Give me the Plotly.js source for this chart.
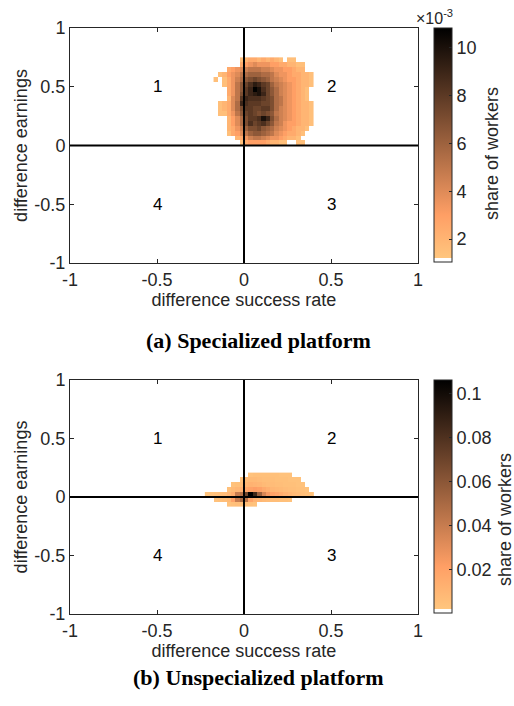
<!DOCTYPE html>
<html>
<head>
<meta charset="utf-8">
<script src="https://cdn.plot.ly/plotly-3.0.1.min.js"></script>
<style>html,body{margin:0;padding:0;background:#fff;}#chart{width:514px;height:706px;}</style>
</head>
<body>
<div id="chart"></div>
<script>
// ---- Data: (a) Specialized platform, share of workers in units of 1e-3 ----
// bin centers of the difference success rate (x) and difference earnings (y)
const topX = [-0.1625,-0.1375,-0.1125,-0.0875,-0.0625,-0.0375,-0.0125,0.0125,0.0375,0.0625,0.0875,0.1125,
              0.1375,0.1625,0.1875,0.2125,0.2375,0.2625,0.2875,0.3125,0.3375,0.3625,0.3875];
const topY = [0.0208,0.0625,0.1042,0.1458,0.1875,0.2292,0.2708,0.3125,0.3542,0.3958,0.4375,0.4792,
              0.5208,0.5625,0.6042,0.6458,0.6875,0.7292];
// rows from bottom (y≈0) to top (y≈0.73); columns from x≈-0.16 to x≈0.39
const topZ = [
  [0,0,0,0,0,0,1.5,2.5,3,3,3,3,2.5,2,2,1.5,1.5,0,0,1.5,1.5,0,0],
  [0,0,0,0,0,2,2.5,3.5,4.5,5,5,4.5,4,3.5,3.5,3,2.5,2,2,1.5,0,0,0],
  [0,0,0,1.5,2.5,3,4,5,6,6.5,6.5,6,5.5,5,4,3.5,3,2.5,2.5,2,1.5,0,0],
  [0,0,0,2,2.5,3.5,4.5,6,7,7,7.5,6.5,6,5.5,4.5,4,3.5,3,2.5,2,2,1.5,0],
  [0,0,0,2,3,4,5.5,7,8.5,7.5,8,8.5,7.5,6.5,5,4.5,3.5,3,3,2.5,2,2,1.5],
  [0,0,0,2,3,4,5.5,7,8,8,8.5,10,9,7,5.5,4.5,4,3.5,3,2.5,2,2,1.5],
  [0,1.5,1.5,2.5,3.5,5,6.5,7.5,8,7.5,7,7.5,7,6.5,5,4.5,4,3.5,3,2.5,2,2,1.5],
  [0,1.5,2,2.5,4,5.5,7,8,8,7.5,7.5,8,8,7,5.5,4.5,4,3.5,3,2.5,2,2,1.5],
  [0,1.5,2,2.5,4,5.5,9,8.5,8,8,8,7.5,7.5,7,5.5,5,4,3.5,3,2.5,2,2,1.5],
  [0,0,0,2,4,5,8,9,8.5,8.5,8.5,8,7.5,7,5.5,5,4,3.5,3,2.5,2,1.5,0],
  [0,0,0,2.5,3.5,5,7,8,9,9.5,10,9,7.5,6.5,5.5,4.5,4,3.5,3,2.5,2,1.5,0],
  [0,0,0,2.5,3.5,5,6.5,8,9,10.8,10,8.5,7.5,6.5,5.5,4.5,4,3.5,3,2.5,2,1.5,0],
  [0,0,1.5,2.5,3.5,5,6.5,7.5,8.5,9.5,9,8,7.5,6,5,4.5,4,3.5,3,2.5,2,2,1.5],
  [1.5,0,1.5,2.5,3.5,4.5,5.5,6.5,7,7.5,7,6.5,6,5,4.5,4,3.5,3,3,2.5,2,2,1.5],
  [0,1.5,2,3,3.5,4,5,5.5,6,6,6,5.5,5.5,5,4,3.5,3.5,3,2.5,2.5,2,2,1.5],
  [0,0,0,2.5,3,3.5,4,4.5,5,5,5,4.5,4.5,4,3.5,3.5,3,3,2.5,2,2,0,0],
  [0,0,0,0,0,0,2.5,3,3.5,4,3.5,3.5,3.5,3,3,2.5,2.5,2,2,1.5,1.5,0,0],
  [0,0,0,0,0,0,1.5,2,2.5,2.5,2,2.5,2,2.5,2,1.5,0,1.5,1.5,0,0,0,0]
];
const topTicks = [2,4,6,8,10];
const topTickText = ['2','4','6','8','10'];

// ---- Data: (b) Unspecialized platform, share of workers ----
const botX = [-0.2125,-0.1875,-0.1625,-0.1375,-0.1125,-0.0875,-0.0625,-0.0375,-0.0125,0.0125,0.0375,0.0625,
              0.0875,0.1125,0.1375,0.1625,0.1875,0.2125,0.2375,0.2625,0.2875,0.3125,0.3375,0.3625,0.3875];
const botY = [-0.0625,-0.0208,0.0208,0.0625,0.1042,0.1458,0.1875];
const botZ = [
  [0,0,0,0,0,0.004,0.005,0.006,0.006,0.006,0.005,0.004,0,0,0,0,0,0,0,0,0,0,0,0,0],
  [0,0,0.004,0.005,0.006,0.008,0.02,0.04,0.05,0.045,0.02,0.012,0.01,0.008,0.007,0.006,0.006,0.005,0.005,0.004,0,0,0,0,0],
  [0.003,0.004,0.005,0.006,0.007,0.01,0.015,0.04,0.045,0.07,0.106,0.085,0.055,0.035,0.025,0.02,0.018,0.015,0.012,0.01,0.008,0.007,0.006,0.005,0.004],
  [0,0,0,0,0,0.005,0.008,0.01,0.013,0.018,0.02,0.022,0.02,0.016,0.013,0.01,0.009,0.008,0.007,0.006,0.006,0.005,0.005,0.004,0],
  [0,0,0,0,0,0,0.004,0.005,0.007,0.01,0.012,0.011,0.01,0.008,0.007,0.007,0.006,0.006,0.005,0.005,0.005,0.004,0.004,0,0],
  [0,0,0,0,0,0,0,0,0.004,0.007,0.008,0.008,0.007,0.006,0.006,0.006,0.005,0.005,0.005,0.004,0.004,0.004,0,0,0],
  [0,0,0,0,0,0,0,0,0,0,0.004,0.005,0.005,0.005,0.005,0.005,0.005,0.004,0.004,0.004,0,0,0,0,0]
];
const botTicks = [0.02,0.04,0.06,0.08,0.1];
const botTickText = ['0.02','0.04','0.06','0.08','0.1'];

const axisTicks = [-1,-0.5,0,0.5,1];
const axisTickText = ['-1','-0.5','0','0.5','1'];
const quadLabels = ['1','2','3','4'];
const quadX = [-0.5,0.5,0.5,-0.5];
const quadY = [0.5,0.5,-0.5,-0.5];

// flipped MATLAB "copper" colormap with white first entry
const cscale = [
  [0,'rgb(255,255,255)'],[0.0156,'rgb(255,255,255)'],
  [0.0157,'rgb(255,198,126)'],[0.2,'rgb(255,159,101)'],[1,'rgb(0,0,0)']
];
const nz = z => z.map(r => r.map(v => v === 0 ? null : v));

const W = 514, H = 706;
const px = v => v / W, py = v => 1 - v / H;

const SANS = 'Liberation Sans, Arial, sans-serif';
const font = {family: SANS, size: 18, color: '#262626'};

function axis(domain, anchor, titleText) {
  return {
    domain: domain, anchor: anchor, range: [-1, 1], autorange: false,
    tickmode: 'array', tickvals: axisTicks, ticktext: axisTickText,
    ticks: 'inside', ticklen: 4, tickcolor: '#262626', tickwidth: 1,
    showline: true, linecolor: '#262626', linewidth: 1, mirror: 'ticks',
    showgrid: false, zeroline: false, fixedrange: true,
    tickfont: font,
    title: {text: titleText, font: font, standoff: 2}
  };
}

function cbar(yc, lenPx, vals, txt) {
  return {
    x: px(434), xanchor: 'left', y: py(yc), yanchor: 'middle',
    len: lenPx / H, lenmode: 'fraction', thickness: 18, thicknessmode: 'pixels',
    outlinecolor: '#262626', outlinewidth: 1,
    tickmode: 'array', tickvals: vals, ticktext: txt,
    ticks: 'inside', ticklen: 3, tickcolor: '#262626',
    tickfont: font, xpad: 0, ypad: 0
  };
}

const traces = [
  {type: 'heatmap', x: topX, y: topY, z: nz(topZ), xaxis: 'x', yaxis: 'y',
   colorscale: cscale, zmin: 1.04, zmax: 10.83, hoverongaps: false,
   colorbar: cbar(145, 234, topTicks, topTickText)},
  {type: 'heatmap', x: botX, y: botY, z: nz(botZ), xaxis: 'x2', yaxis: 'y2',
   colorscale: cscale, zmin: 0.0005, zmax: 0.106, hoverongaps: false,
   colorbar: cbar(496.5, 233, botTicks, botTickText)}
];

const annotations = [];
['x', 'x2'].forEach((xa, i) => {
  const ya = i === 0 ? 'y' : 'y2';
  quadLabels.forEach((t, k) => annotations.push({
    xref: xa, yref: ya, x: quadX[k], y: quadY[k], text: t, showarrow: false,
    font: {family: SANS, size: 17, color: '#000'}
  }));
});
const SERIF = 'Liberation Serif, Times New Roman, serif';
annotations.push({xref: 'paper', yref: 'paper', x: px(258), y: py(340), text: '<b>(a) Specialized platform</b>',
  showarrow: false, font: {family: SERIF, size: 22, color: '#000'}});
annotations.push({xref: 'paper', yref: 'paper', x: px(258), y: py(692), text: '<b>(b) Unspecialized platform</b>',
  showarrow: false, font: {family: SERIF, size: 22, color: '#000'}});
annotations.push({xref: 'paper', yref: 'paper', x: px(455), y: py(17), xanchor: 'right', yanchor: 'middle',
  text: '×10<sup>-3</sup>', showarrow: false, font: {family: SANS, size: 16, color: '#262626'}});
// colorbar labels
annotations.push({xref: 'paper', yref: 'paper', x: px(492), y: py(154), xanchor: 'center', yanchor: 'middle',
  text: 'share of workers', textangle: -90, showarrow: false, font: font});
annotations.push({xref: 'paper', yref: 'paper', x: px(505), y: py(520), xanchor: 'center', yanchor: 'middle',
  text: 'share of workers', textangle: -90, showarrow: false, font: font});

const shapes = [];
[['x', 'y'], ['x2', 'y2']].forEach(([xa, ya]) => {
  shapes.push({type: 'line', xref: xa, yref: ya, x0: 0, x1: 0, y0: -1, y1: 1, layer: 'above', line: {color: '#000', width: 2}});
  shapes.push({type: 'line', xref: xa, yref: ya, x0: -1, x1: 1, y0: 0, y1: 0, layer: 'above', line: {color: '#000', width: 2}});
});

const layout = {
  width: W, height: H, margin: {l: 0, r: 0, t: 0, b: 0},
  paper_bgcolor: '#fff', plot_bgcolor: '#fff', showlegend: false,
  xaxis: axis([px(70), px(418)], 'y', 'difference success rate'),
  yaxis: axis([py(263), py(28)], 'x', 'difference earnings'),
  xaxis2: axis([px(70), px(418)], 'y2', 'difference success rate'),
  yaxis2: axis([py(614), py(380)], 'x2', 'difference earnings'),
  annotations: annotations, shapes: shapes
};

Plotly.newPlot('chart', traces, layout, {staticPlot: true, displayModeBar: false});
</script>
</body>
</html>
